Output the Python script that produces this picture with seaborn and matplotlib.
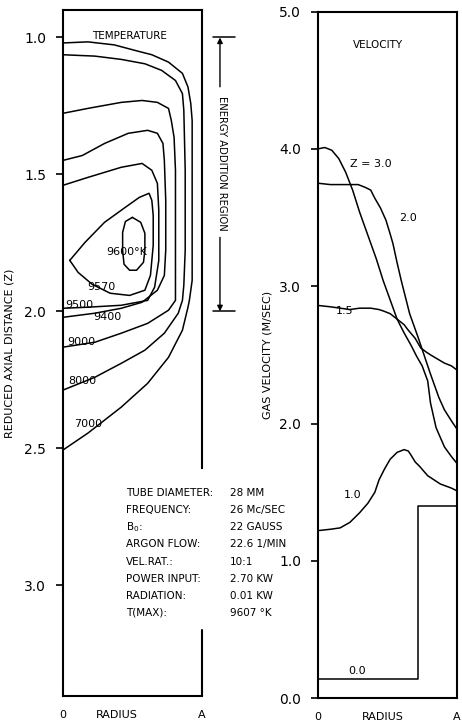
import numpy as np
import pandas as pd
import matplotlib
matplotlib.use("Agg")
import matplotlib.pyplot as plt
import seaborn as sns

# ---- temperature contours (r/A vs reduced axial distance Z)
t7000_r = [0, .18, .37, .54, .64, .76, .86, .90, .92, .93, .93, .93, .91, .90, .86, .76, .61, .42, .18, 0]
t7000_z = [1.02, 1.016, 1.027, 1.05, 1.063, 1.09, 1.131, 1.181, 1.241, 1.303, 1.595, 1.887,
           1.96, 1.985, 2.069, 2.168, 2.263, 2.35, 2.445, 2.507]
t8000_r = [0, .23, .42, .59, .71, .81, .86, .87, .88, .88, .87, .86, .83, .73, .59, .42, .23, 0]
t8000_z = [1.063, 1.068, 1.08, 1.096, 1.12, 1.157, 1.205, 1.266, 1.485, 1.777, 1.905, 1.96,
           2.007, 2.08, 2.142, 2.19, 2.241, 2.288]
t9000_r = [0, .18, .42, .57, .68, .76, .78, .80, .81, .81, .81, .81, .76, .61, .42, .23, 0]
t9000_z = [1.277, 1.259, 1.237, 1.23, 1.237, 1.259, 1.303, 1.365, 1.485, 1.777, 1.905, 1.96,
           1.996, 2.044, 2.08, 2.113, 2.131]
t9400_r = [0, .14, .30, .47, .61, .68, .72, .73, .74, .74, .73, .68, .57, .42, .23, 0]
t9400_z = [1.449, 1.431, 1.387, 1.35, 1.339, 1.35, 1.387, 1.449, 1.595, 1.777, 1.869, 1.923,
           1.967, 1.989, 2.007, 2.022]
t9500_r = [0, .18, .42, .57, .64, .68, .69, .69, .66, .61, .42, .18, 0]
t9500_z = [1.54, 1.511, 1.474, 1.46, 1.485, 1.533, 1.631, 1.814, 1.912, 1.96, 1.978, 1.985, 1.989]
t9570_r = [.05, .16, .30, .45, .55, .62, .64, .65, .65, .63, .59, .48, .34, .21, .11, .05]
t9570_z = [1.814, 1.748, 1.675, 1.62, 1.584, 1.569, 1.595, 1.65, 1.759, 1.869, 1.923, 1.942,
           1.934, 1.901, 1.858, 1.814]
t9600_r = [.50, .56, .59, .59, .58, .53, .48, .44, .43, .43, .45, .50]
t9600_z = [1.657, 1.675, 1.715, 1.777, 1.821, 1.85, 1.85, 1.828, 1.777, 1.712, 1.672, 1.657]

# contour labels
temp_labels = ['9600°K', '9570', '9500', '9400', '9000', '8000', '7000']
temp_label_r = [.46, .28, .12, .32, .13, .14, .18]
temp_label_z = [1.785, 1.912, 1.978, 2.022, 2.113, 2.255, 2.412]

# ---- gas velocity profiles (r/A vs m/sec) at several Z
z30_r = [0, .05, .10, .15, .20, .25, .30, .36, .42, .47, .52, .57, .62, .67, .71, .75, .79, .81, .85, .91, .96, 1.0]
z30_v = [4.00, 4.01, 3.99, 3.93, 3.83, 3.70, 3.54, 3.37, 3.20, 3.04, 2.90, 2.76, 2.66, 2.57, 2.49,
         2.42, 2.31, 2.15, 1.97, 1.83, 1.76, 1.71]
z20_r = [0, .09, .20, .29, .34, .38, .41, .45, .49, .52, .54, .57, .60, .63, .66, .72, .76, .81, .87, .91, .96, 1.0]
z20_v = [3.75, 3.74, 3.74, 3.74, 3.72, 3.70, 3.64, 3.57, 3.48, 3.38, 3.31, 3.17, 3.04, 2.92, 2.80,
         2.63, 2.51, 2.36, 2.19, 2.10, 2.02, 1.96]
z15_r = [0, .09, .16, .23, .30, .38, .44, .47, .52, .57, .62, .65, .70, .74, .78, .81, .86, .91, .96, 1.0]
z15_v = [2.86, 2.85, 2.84, 2.83, 2.84, 2.84, 2.83, 2.82, 2.80, 2.76, 2.72, 2.68, 2.62, 2.55, 2.52,
         2.50, 2.47, 2.44, 2.42, 2.39]
z10_r = [0, .09, .16, .23, .30, .36, .41, .44, .48, .52, .57, .62, .65, .67, .70, .73, .79, .88, .96, 1.0]
z10_v = [1.22, 1.23, 1.24, 1.28, 1.35, 1.42, 1.50, 1.59, 1.67, 1.74, 1.79, 1.81, 1.80, 1.77, 1.72,
         1.69, 1.62, 1.56, 1.53, 1.51]
z00_r = [0, .72, .72, 1.0]
z00_v = [.14, .14, 1.40, 1.40]

vel_labels = ['Z = 3.0', '2.0', '1.5', '1.0', '0.0']
vel_label_r = [.38, .645, .19, .25, .28]
vel_label_v = [3.89, 3.50, 2.82, 1.48, 0.20]

# run conditions
param_names = ['TUBE DIAMETER:', 'FREQUENCY:', 'B$_0$:', 'ARGON FLOW:', 'VEL.RAT.:',
               'POWER INPUT:', 'RADIATION:', 'T(MAX):']
param_values = ['28 MM', '26 Mc/SEC', '22 GAUSS', '22.6 1/MIN', '10:1', '2.70 KW', '0.01 KW', '9607 °K']

# build long tables for seaborn
temp = pd.concat([
    pd.DataFrame({'r': r, 'z': z, 'level': name})
    for name, r, z in [('7000', t7000_r, t7000_z), ('8000', t8000_r, t8000_z),
                       ('9000', t9000_r, t9000_z), ('9400', t9400_r, t9400_z),
                       ('9500', t9500_r, t9500_z), ('9570', t9570_r, t9570_z),
                       ('9600', t9600_r, t9600_z)]
], ignore_index=True)
vel = pd.concat([
    pd.DataFrame({'r': r, 'v': v, 'Z': name})
    for name, r, v in [('3.0', z30_r, z30_v), ('2.0', z20_r, z20_v), ('1.5', z15_r, z15_v),
                       ('1.0', z10_r, z10_v), ('0.0', z00_r, z00_v)]
], ignore_index=True)

sns.set_style("ticks")
plt.rcParams['font.family'] = ['DejaVu Sans']
plt.rcParams['text.color'] = 'black'
plt.rcParams['axes.labelcolor'] = 'black'
plt.rcParams['xtick.color'] = 'black'
plt.rcParams['ytick.color'] = 'black'
plt.rcParams['axes.edgecolor'] = 'black'

fig = plt.figure(figsize=(4.62, 7.22), dpi=100)
ax1 = fig.add_axes([0.136, 0.036, 0.301, 0.950])
ax2 = fig.add_axes([0.688, 0.033, 0.301, 0.951])

# ---- left: temperature
sns.lineplot(data=temp, x='r', y='z', units='level', estimator=None, sort=False,
             color='black', linewidth=1.1, ax=ax1)
ax1.set_xlim(0, 1)
ax1.set_ylim(3.405, 0.90)
ax1.set_yticks([1.0, 1.5, 2.0, 2.5, 3.0])
ax1.set_xticks([0, .39, 1])
ax1.set_xticklabels(['0', 'RADIUS', 'A'])
ax1.set_xlabel('')
ax1.set_ylabel('REDUCED AXIAL DISTANCE (Z)', fontsize=8)
ax1.yaxis.set_label_coords(-0.345, 0.5)
ax1.text(.48, .993, 'TEMPERATURE', fontsize=7.5, ha='center', va='center')
for lab, r, z in zip(temp_labels, temp_label_r, temp_label_z):
    ax1.text(r, z, lab, fontsize=8, ha='center', va='center')

# broken tube wall where the parameter table sits
ax1.spines['right'].set_bounds(0.90, 2.573)
ax1.plot([1, 1], [3.165, 3.405], color='black', lw=1.5, clip_on=False)

# energy addition region marker
for zz in [1.0, 2.0]:
    ax1.plot([1.08, 1.24], [zz, zz], color='black', lw=1.1, clip_on=False)
ax1.annotate('', xy=(1.13, 1.0), xytext=(1.13, 1.18), annotation_clip=False,
             arrowprops=dict(arrowstyle='-|>', color='black', lw=1, shrinkA=0, shrinkB=0,
                             mutation_scale=8))
ax1.annotate('', xy=(1.13, 2.0), xytext=(1.13, 1.73), annotation_clip=False,
             arrowprops=dict(arrowstyle='-|>', color='black', lw=1, shrinkA=0, shrinkB=0,
                             mutation_scale=8))
ax1.text(1.145, 1.46, 'ENERGY ADDITION REGION', rotation=-90, fontsize=7.2,
         ha='center', va='center')

# run conditions table
for i, (name, val) in enumerate(zip(param_names, param_values)):
    zz = 2.664 + i * 0.0625
    ax1.text(0.453, zz, name, fontsize=7.5, ha='left', va='center')
    ax1.text(1.20, zz, val, fontsize=7.5, ha='left', va='center')

# ---- right: velocity
sns.lineplot(data=vel, x='r', y='v', units='Z', estimator=None, sort=False,
             color='black', linewidth=1.1, ax=ax2)
ax2.set_xlim(0, 1)
ax2.set_ylim(0, 5)
ax2.set_yticks([0, 1, 2, 3, 4, 5])
ax2.set_yticklabels(['0.0', '1.0', '2.0', '3.0', '4.0', '5.0'])
ax2.set_xticks([0, .47, 1])
ax2.set_xticklabels(['0', 'RADIUS', 'A'])
ax2.set_xlabel('')
ax2.set_ylabel('GAS VELOCITY (M/SEC)', fontsize=8)
ax2.yaxis.set_label_coords(-0.324, 0.5)
ax2.text(.43, 4.76, 'VELOCITY', fontsize=7.5, ha='center', va='center')
for lab, r, v in zip(vel_labels, vel_label_r, vel_label_v):
    ax2.text(r, v, lab, fontsize=8, ha='center', va='center')

for ax in (ax1, ax2):
    for s in ax.spines.values():
        s.set_linewidth(1.5)
        s.set_visible(True)
    ax.tick_params(axis='y', direction='out', length=5, width=1.2, pad=7, labelsize=10)
    ax.tick_params(axis='x', length=0, pad=10, labelsize=8)

fig.savefig('out.png', dpi=100)
